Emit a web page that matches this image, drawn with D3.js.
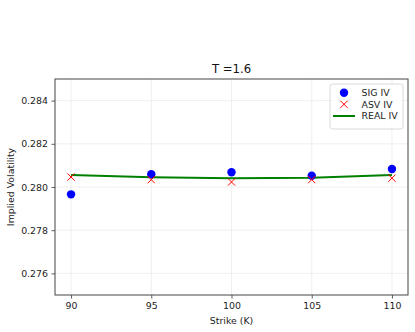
<!DOCTYPE html>
<html><head><meta charset="utf-8">
<script src="https://cdn.jsdelivr.net/npm/d3@7"></script>
<style>body{margin:0;background:#fff}svg{display:block;font-family:"DejaVu Sans",sans-serif}</style>
</head><body><svg id="c" width="415" height="332"></svg>
<script>
const title = "T =1.6";
const strikes = [90, 95, 100, 105, 110];
const sigIV = [0.27966, 0.28059, 0.28068, 0.28052, 0.28083];
const asvIV = [0.28046, 0.28034, 0.28023, 0.28034, 0.28041];
const realIV = [0.28055, 0.28045, 0.28040, 0.28043, 0.28055];
const xTicks = [90, 95, 100, 105, 110];
const yTicks = [0.276, 0.278, 0.280, 0.282, 0.284];

const svg = d3.select("#c");
const m = {l:55, r:408, t:79, b:295};
const x = d3.scaleLinear().domain([89, 111]).range([m.l, m.r]);
const y = d3.scaleLinear().domain([0.275, 0.285]).range([m.b, m.t]);
const fs = 9.4;

// grid
const g = svg.append("g");
g.selectAll(".gx").data(xTicks).join("line").attr("x1",d=>x(d)).attr("x2",d=>x(d)).attr("y1",m.t).attr("y2",m.b).attr("stroke","#ebebeb").attr("stroke-width",0.8);
g.selectAll(".gy").data(yTicks).join("line").attr("y1",d=>y(d)).attr("y2",d=>y(d)).attr("x1",m.l).attr("x2",m.r).attr("stroke","#ebebeb").attr("stroke-width",0.8);

// axes
const xa = svg.append("g").attr("transform",`translate(0,${m.b})`).call(d3.axisBottom(x).tickValues(xTicks).tickSize(3.5).tickPadding(3.5).tickFormat(d3.format("d")));
const ya = svg.append("g").attr("transform",`translate(${m.l},0)`).call(d3.axisLeft(y).tickValues(yTicks).tickSize(3.5).tickPadding(3.5).tickFormat(d3.format(".3f")));
[xa,ya].forEach(a=>{a.select(".domain").remove();a.selectAll("line").attr("stroke","#333").attr("stroke-width",0.8);a.selectAll("text").attr("font-size",fs).attr("fill","#222").attr("font-family","DejaVu Sans");});
svg.append("rect").attr("x",m.l).attr("y",m.t).attr("width",m.r-m.l).attr("height",m.b-m.t).attr("fill","none").attr("stroke","#444").attr("stroke-width",1);

// real line
svg.append("path").datum(strikes.map((k,i)=>[k,realIV[i]])).attr("fill","none").attr("stroke","#008000").attr("stroke-width",2)
  .attr("d", d3.line().x(d=>x(d[0])).y(d=>y(d[1])));
// sig circles
svg.selectAll(".sig").data(strikes).join("circle").attr("cx",d=>x(d)).attr("cy",(d,i)=>y(sigIV[i])).attr("r",4.2).attr("fill","#0000ff");
// asv crosses
const cs = 3.6;
svg.selectAll(".asv").data(strikes).join("path").attr("d",(d,i)=>{const cx=x(d),cy=y(asvIV[i]);return `M${cx-cs},${cy-cs}L${cx+cs},${cy+cs}M${cx-cs},${cy+cs}L${cx+cs},${cy-cs}`;}).attr("stroke","#ff0000").attr("stroke-width",1).attr("fill","none");

// title & labels
svg.append("text").attr("x",(m.l+m.r)/2).attr("y",73).attr("text-anchor","middle").attr("font-size",11.7).attr("fill","#111").text(title);
svg.append("text").attr("x",(m.l+m.r)/2).attr("y",324).attr("text-anchor","middle").attr("font-size",fs).attr("fill","#222").text("Strike (K)");
svg.append("text").attr("transform",`translate(14,${(m.t+m.b)/2}) rotate(-90)`).attr("text-anchor","middle").attr("font-size",fs).attr("fill","#222").text("Implied Volatility");

// legend
const lg = svg.append("g");
lg.append("rect").attr("x",330).attr("y",84).attr("width",73).attr("height",45).attr("rx",2.5).attr("fill","#fff").attr("fill-opacity",0.8).attr("stroke","#d0d0d0").attr("stroke-width",0.8);
lg.append("circle").attr("cx",344).attr("cy",92.7).attr("r",4.2).attr("fill","#0000ff");
lg.append("path").attr("d",`M${344-cs},${104.3-cs}L${344+cs},${104.3+cs}M${344-cs},${104.3+cs}L${344+cs},${104.3-cs}`).attr("stroke","#ff0000").attr("stroke-width",1);
lg.append("line").attr("x1",333).attr("x2",355).attr("y1",116).attr("y2",116).attr("stroke","#008000").attr("stroke-width",2);
[["SIG IV",92.7],["ASV IV",104.3],["REAL IV",116]].forEach(([t,yy])=>lg.append("text").attr("x",361.5).attr("y",yy+3.3).attr("font-size",fs).attr("fill","#222").text(t));
</script></body></html>
